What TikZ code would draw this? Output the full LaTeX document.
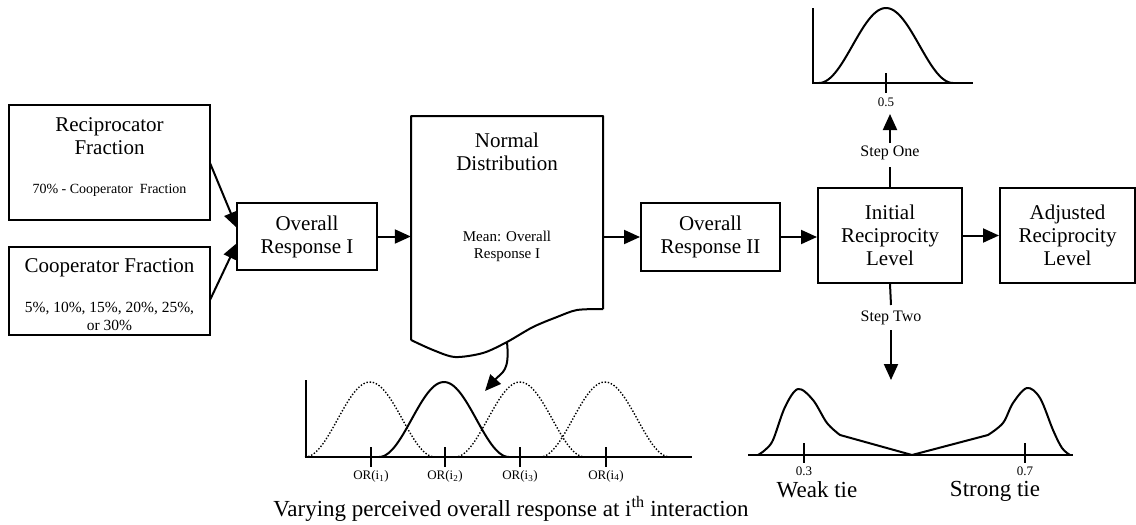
\documentclass[tikz,border=0pt]{standalone}
\usepackage{fontspec}
\setmainfont{Liberation Serif}
\usetikzlibrary{arrows.meta}
\begin{document}
\begin{tikzpicture}[x=1pt,y=-1pt,
  ln/.style={line width=2pt},
  arr/.style={ln,-{Triangle[length=16pt,width=14pt]}},
  box/.style={draw,ln,rectangle,inner sep=0pt,align=center},
  big/.style={font=\fontsize{21}{23}\selectfont},
  lab/.style={font=\fontsize{16}{18}\selectfont},
  tiny/.style={font=\fontsize{13}{14}\selectfont},
  dots/.style={line width=1.4pt,dash pattern=on 1.4pt off 1.8pt},
  txt/.style={inner sep=0pt,align=center}]
\useasboundingbox (0,0) rectangle (1136,525);
% left boxes
\node[box,minimum width=201pt,minimum height=115pt] (rf) at (109.5,162.5) {};
\node[txt,big] (rft) at (109.5,136) {Reciprocator\\Fraction};
\node[txt,font=\fontsize{14}{16}\selectfont] (rfs) at (109.5,190) {70\% - Cooperator\ \ Fraction};
\node[box,minimum width=201pt,minimum height=88pt] (cf) at (109.5,291) {};
\node[txt,big] (cft) at (109.5,268) {Cooperator Fraction};
\node[txt,font=\fontsize{15.5}{18}\selectfont] (cfs) at (109.5,316) {5\%, 10\%, 15\%, 20\%, 25\%,\\or 30\%};
% overall response I
\node[box,big,minimum width=140pt,minimum height=67pt] (or1) at (307,236.5) {Overall\\Response I};
\coordinate (or1a) at (237,228);
\coordinate (or1b) at (237,243);
\coordinate (rfo) at (210,163);
\coordinate (cfo) at (210,300);
\draw[arr] (rfo) -- (or1a);
\draw[arr] (cfo) -- (or1b);
% normal distribution document
\node[minimum width=192pt,minimum height=224pt,inner sep=0pt] (nd) at (507,228) {};
\draw[ln,line join=round] (603,309) -- (603,116) -- (411,116) -- (411,340)
  plot[smooth,tension=0.5] coordinates {(411,340) (433,350) (455,357) (483,353) (507,342) (533,327) (557,317) (577,310) (603,309)};
\node[txt,big] (ndt) at (507,152) {Normal\\Distribution};
\node[txt,font=\fontsize{15}{17}\selectfont] (nds) at (507,246) {Mean: Overall\\Response I};
\draw[arr] (or1.east) -- (nd.west |- or1.east);
% overall response II
\node[box,big,minimum width=139pt,minimum height=68pt] (or2) at (710.5,237) {Overall\\Response II};
\draw[arr] (nd.east |- or2.west) -- (or2.west);
% initial reciprocity
\node[box,big,minimum width=144pt,minimum height=95pt] (irl) at (890,235.5) {Initial\\Reciprocity\\Level};
\draw[arr] (or2.east) -- (irl.west |- or2.east);
\node[box,big,minimum width=135pt,minimum height=95pt] (arl) at (1067.5,235.5) {Adjusted\\Reciprocity\\Level};
\draw[arr] (irl.east) -- (arl.west);
% step one
\node[txt,lab] (s1) at (890,153) {Step One};
\node[txt,tiny] (l05) at (886,102) {0.5};
\coordinate (s1a) at (890,167);
\coordinate (s1b) at (890,143);
\coordinate (s1e) at (890,114);
\draw[ln] (irl.north) -- (s1a);
\draw[arr] (s1b) -- (s1e);
% top plot
\coordinate (ta) at (813,8);
\coordinate (to) at (813,83);
\coordinate (tx) at (973,83);
\draw[ln] (ta) -- (to) -- (tx);
\draw[ln] (886,73) -- (886,93);
\draw[ln] plot[domain=819:953,samples=60,smooth] (\x,{83-37.5*(1+cos(180*(\x-886)/67))});
% step two
\node[txt,lab] (s2) at (891,318) {Step Two};
\coordinate (s2a) at (891,305);
\coordinate (s2b) at (891,330);
\coordinate (s2e) at (891,380);
\draw[ln] (irl.south) -- (s2a);
\draw[arr] (s2b) -- (s2e);
% bimodal plot
\draw[ln] (748,455) -- (1073,455);
\draw[ln] (804,443) -- (804,463);
\draw[ln] (1025,443) -- (1025,463);
\draw[ln,line join=round] plot[smooth,tension=0.55] coordinates {(758,455) (765,450) (773,440) (785,407) (798,389) (813,400) (827,423) (840,435)}
  -- (912,455) -- (988,435)
  plot[smooth,tension=0.55] coordinates {(988,435) (1003,423) (1013,403) (1027,388) (1040,398) (1053,430) (1062,448) (1070,455)};
\node[txt,tiny] (l03) at (804,471) {0.3};
\node[txt,tiny] (l07) at (1025,471) {0.7};
\node[txt,font=\fontsize{23}{25}\selectfont] (wt) at (817,490) {Weak tie};
\node[txt,font=\fontsize{23}{25}\selectfont] (st) at (995,491) {Strong tie};
% bottom middle plot
\draw[ln] (306,380) -- (306,457) -- (692,457);
\foreach \t in {371,445,520,606} \draw[ln] (\t,447) -- (\t,467);
\draw[dots] plot[domain=305:435,samples=60,smooth] (\x,{457-37.5*(1+cos(180*(\x-370)/65))});
\draw[ln] plot[domain=379:509,samples=60,smooth] (\x,{457-37.5*(1+cos(180*(\x-444)/65))});
\draw[dots] plot[domain=455:585,samples=60,smooth] (\x,{457-37.5*(1+cos(180*(\x-520)/65))});
\draw[dots] plot[domain=540:670,samples=60,smooth] (\x,{457-37.5*(1+cos(180*(\x-605)/65))});
\node[txt,tiny] (o1) at (371,476) {OR(i\textsubscript{1})};
\node[txt,tiny] (o2) at (445,476) {OR(i\textsubscript{2})};
\node[txt,tiny] (o3) at (520,476) {OR(i\textsubscript{3})};
\node[txt,tiny] (o4) at (606,476) {OR(i\textsubscript{4})};
\node[txt,font=\fontsize{23}{25}\selectfont] (cap) at (511,509) {Varying perceived overall response at i\textsuperscript{th} interaction};
% curved arrow
\coordinate (nds0) at (507,342);
\coordinate (ndt0) at (485,391);
\draw[arr] (nds0) .. controls (510,372) and (502,372) .. (ndt0);
\end{tikzpicture}
\end{document}
